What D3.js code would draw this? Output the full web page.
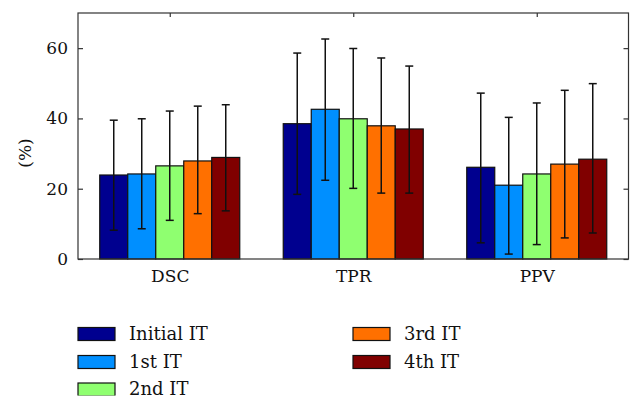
<!DOCTYPE html>
<html>
<head>
<meta charset="utf-8">
<script src="https://cdn.jsdelivr.net/npm/d3@7"></script>
<style>
html,body{margin:0;padding:0;background:#fff;}
</style>
</head>
<body>
<svg id="chart" width="643" height="409"></svg>
<script>
const categories = ["DSC", "TPR", "PPV"];
const seriesNames = ["Initial IT", "1st IT", "2nd IT", "3rd IT", "4th IT"];
const seriesColors = ["#00008f", "#008fff", "#8fff70", "#ff7000", "#800000"];
// mean values per series (rows) for each category (columns)
const means = [
  [23.9, 38.5, 26.1],
  [24.2, 42.6, 21.0],
  [26.5, 39.9, 24.2],
  [27.9, 37.9, 27.0],
  [28.9, 37.0, 28.4]
];
const errUpper = [
  [39.5, 58.6, 47.2],
  [39.9, 62.6, 40.3],
  [42.1, 59.9, 44.4],
  [43.5, 57.2, 48.0],
  [43.9, 54.9, 49.9]
];
const errLower = [
  [8.2, 18.4, 4.6],
  [8.6, 22.4, 1.4],
  [11.0, 20.1, 4.1],
  [12.9, 18.75, 6.0],
  [13.7, 18.75, 7.4]
];
const yTicks = [0, 20, 40, 60];

const FONT = "DejaVu Serif";
const svg = d3.select("#chart");
const L = 78, R = 628.5, T = 13, B = 259;

const x0 = d3.scaleBand().domain(categories).range([L, R])
  .paddingInner(0.237).paddingOuter(0.1185);
const x1 = d3.scaleBand().domain(seriesNames).range([0, x0.bandwidth()]);
const y = d3.scaleLinear().domain([0, 70]).range([B, T]);

const data = [];
seriesNames.forEach((s, i) => categories.forEach((c, j) => {
  data.push({s, c, i, v: means[i][j], hi: errUpper[i][j], lo: errLower[i][j]});
}));

// bars
svg.append("g").selectAll("rect").data(data).join("rect")
  .attr("x", d => x0(d.c) + x1(d.s))
  .attr("y", d => y(d.v))
  .attr("width", x1.bandwidth())
  .attr("height", d => y(0) - y(d.v))
  .attr("fill", d => seriesColors[d.i])
  .attr("stroke", "#111")
  .attr("stroke-width", 1.2);

// error bars
const eg = svg.append("g").attr("stroke", "#111").attr("stroke-width", 1.5);
data.forEach(d => {
  const cx = x0(d.c) + x1(d.s) + x1.bandwidth() / 2;
  eg.append("line").attr("x1", cx).attr("x2", cx).attr("y1", y(d.hi)).attr("y2", y(d.lo));
  eg.append("line").attr("x1", cx - 4).attr("x2", cx + 4).attr("y1", y(d.hi)).attr("y2", y(d.hi));
  eg.append("line").attr("x1", cx - 4).attr("x2", cx + 4).attr("y1", y(d.lo)).attr("y2", y(d.lo));
});

// axes box
const axColor = "#333";
svg.append("rect").attr("x", L).attr("y", T).attr("width", R - L).attr("height", B - T)
  .attr("fill", "none").attr("stroke", axColor).attr("stroke-width", 1.2);

const leftAxis = svg.append("g").attr("transform", `translate(${L},0)`)
  .call(d3.axisLeft(y).tickValues(yTicks).tickSize(-5).tickPadding(10));
leftAxis.attr("font-family", FONT).attr("font-size", 17);
leftAxis.select(".domain").remove();
leftAxis.selectAll("line").attr("stroke", axColor).attr("stroke-width", 1.2);
leftAxis.selectAll("text").attr("fill", "#111");

const rightAxis = svg.append("g").attr("transform", `translate(${R},0)`)
  .call(d3.axisRight(y).tickValues(yTicks).tickSize(-5).tickFormat(""));
rightAxis.select(".domain").remove();
rightAxis.selectAll("line").attr("stroke", axColor).attr("stroke-width", 1.2);

const xc = c => x0(c) + x0.bandwidth() / 2;
const topAxis = svg.append("g").attr("transform", `translate(0,${T})`)
  .call(d3.axisTop(d3.scalePoint().domain(categories).range([xc(categories[0]), xc(categories[2])]))
    .tickSize(-4).tickFormat(""));
topAxis.select(".domain").remove();
topAxis.selectAll("line").attr("stroke", axColor).attr("stroke-width", 1.2);

const botAxis = svg.append("g").attr("transform", `translate(0,${B})`)
  .call(d3.axisBottom(d3.scalePoint().domain(categories).range([xc(categories[0]), xc(categories[2])]))
    .tickSize(0).tickPadding(11));
botAxis.attr("font-family", FONT).attr("font-size", 17);
botAxis.select(".domain").remove();
botAxis.selectAll("text").attr("fill", "#111");

svg.append("text").attr("transform", "translate(31,153) rotate(-90)")
  .attr("text-anchor", "middle").attr("font-size", 17).attr("font-family", FONT)
  .attr("fill", "#111").text("(%)");

// legend
const defs = svg.append("defs");
defs.append("clipPath").attr("id", "lgclip").append("rect")
  .attr("x", 0).attr("y", 0).attr("width", 643).attr("height", 395.5);
const lg = svg.append("g").attr("clip-path", "url(#lgclip)");
const legPos = [[78, 334], [78, 362], [78, 389.5], [353, 334], [353, 362]];
seriesNames.forEach((s, i) => {
  const [lx, ly] = legPos[i];
  lg.append("rect").attr("x", lx).attr("y", ly - 6.5).attr("width", 37).attr("height", 13)
    .attr("fill", seriesColors[i]).attr("stroke", "#111").attr("stroke-width", 1.2);
  lg.append("text").attr("x", lx + 51).attr("y", ly + 5.5)
    .attr("font-size", 18).attr("font-family", FONT).attr("fill", "#111").text(s);
});
</script>
</body>
</html>
